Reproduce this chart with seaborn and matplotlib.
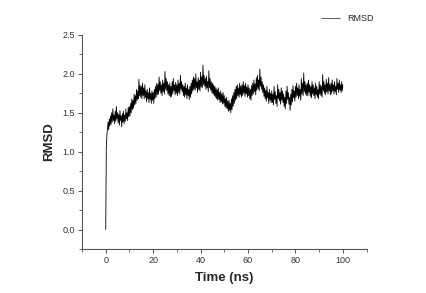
import numpy as np
import pandas as pd
import matplotlib
matplotlib.use('Agg')
import matplotlib.pyplot as plt
from matplotlib.ticker import MultipleLocator
from matplotlib.lines import Line2D
import seaborn as sns

# RMSD trace, one value every 0.25 ns
time_ns = np.arange(0, 100.01, 0.25)
rmsd = [
    0.00, 1.05, 1.22, 1.30, 1.38, 1.28, 1.42, 1.33, 1.46, 1.35, 1.50, 1.38, 1.55, 1.40, 1.47, 1.36, 1.52, 1.39, 1.58, 1.42,
    1.50, 1.37, 1.48, 1.34, 1.53, 1.40, 1.46, 1.32, 1.49, 1.38, 1.52, 1.36, 1.47, 1.39, 1.55, 1.42, 1.50, 1.40, 1.57, 1.45,
    1.58, 1.46, 1.62, 1.50, 1.68, 1.54, 1.66, 1.56, 1.74, 1.60, 1.72, 1.62, 1.80, 1.66, 1.78, 1.68, 1.93, 1.72, 1.85, 1.70,
    1.84, 1.68, 1.88, 1.72, 1.82, 1.68, 1.86, 1.70, 1.78, 1.64, 1.80, 1.68, 1.76, 1.63, 1.82, 1.67, 1.75, 1.62, 1.78, 1.66,
    1.76, 1.62, 1.80, 1.68, 1.84, 1.70, 1.88, 1.73, 1.86, 1.74, 1.96, 1.78, 1.90, 1.75, 1.86, 1.72, 1.92, 1.77, 1.88, 1.74,
    2.03, 1.80, 1.94, 1.78, 1.90, 1.74, 1.86, 1.72, 1.88, 1.70, 1.84, 1.71, 1.90, 1.74, 1.94, 1.78, 1.86, 1.73, 1.89, 1.75,
    1.86, 1.72, 1.92, 1.76, 1.88, 1.74, 1.98, 1.80, 1.90, 1.77, 1.86, 1.72, 1.84, 1.70, 1.88, 1.73, 1.82, 1.68, 1.86, 1.72,
    1.80, 1.67, 1.84, 1.70, 1.88, 1.74, 1.92, 1.78, 1.96, 1.80, 1.94, 1.79, 2.00, 1.82, 1.90, 1.76, 1.95, 1.80, 1.92, 1.78,
    2.02, 1.83, 1.96, 1.82, 2.11, 1.86, 1.98, 1.84, 1.94, 1.80, 1.97, 1.82, 1.90, 1.77, 2.04, 1.82, 1.94, 1.79, 1.90, 1.76,
    1.88, 1.74, 1.86, 1.72, 1.84, 1.70, 1.82, 1.68, 1.80, 1.66, 1.82, 1.67, 1.76, 1.63, 1.78, 1.64, 1.74, 1.61, 1.76, 1.62,
    1.72, 1.58, 1.68, 1.56, 1.70, 1.55, 1.65, 1.52, 1.66, 1.53, 1.62, 1.50, 1.68, 1.54, 1.72, 1.58, 1.76, 1.62, 1.80, 1.66,
    1.84, 1.68, 1.86, 1.72, 1.82, 1.70, 1.88, 1.73, 1.84, 1.70, 1.86, 1.72, 1.90, 1.75, 1.85, 1.71, 1.88, 1.74, 1.83, 1.70,
    1.86, 1.72, 1.82, 1.68, 1.80, 1.66, 1.85, 1.72, 1.88, 1.74, 1.92, 1.77, 1.87, 1.73, 1.95, 1.79, 1.98, 1.81, 1.92, 1.78,
    2.06, 1.84, 1.96, 1.80, 1.90, 1.76, 1.86, 1.71, 1.82, 1.68, 1.79, 1.65, 1.84, 1.69, 1.76, 1.62, 1.80, 1.66, 1.75, 1.63,
    1.78, 1.63, 1.74, 1.60, 1.84, 1.67, 1.77, 1.62, 1.72, 1.58, 1.86, 1.68, 1.80, 1.65, 1.76, 1.61, 1.82, 1.66, 1.78, 1.63,
    1.74, 1.58, 1.70, 1.55, 1.78, 1.62, 1.84, 1.67, 1.76, 1.61, 1.70, 1.53, 1.74, 1.60, 1.80, 1.64, 1.85, 1.69, 1.78, 1.65,
    1.84, 1.70, 1.88, 1.72, 1.82, 1.68, 1.86, 1.71, 1.80, 1.66, 1.94, 1.74, 1.88, 1.72, 2.01, 1.77, 1.90, 1.74, 1.86, 1.72,
    1.88, 1.72, 1.92, 1.76, 1.86, 1.71, 1.84, 1.69, 1.90, 1.74, 1.86, 1.72, 1.82, 1.68, 1.88, 1.73, 1.84, 1.70, 1.80, 1.68,
    1.90, 1.74, 1.86, 1.72, 1.84, 1.70, 1.99, 1.78, 1.90, 1.75, 1.86, 1.73, 1.93, 1.77, 1.88, 1.74, 1.95, 1.78, 1.86, 1.73,
    1.88, 1.75, 1.92, 1.78, 1.86, 1.74, 1.90, 1.77, 1.84, 1.73, 1.94, 1.80, 1.88, 1.76, 1.92, 1.79, 1.86, 1.76, 1.90, 1.78,
    1.86,
]
x_ticks = [0, 20, 40, 60, 80, 100]
y_ticks = [0.0, 0.5, 1.0, 1.5, 2.0, 2.5]

df = pd.DataFrame({'Time (ns)': time_ns, 'RMSD': rmsd})

sns.set_style('ticks')
plt.rcParams['font.family'] = ['Liberation Sans', 'DejaVu Sans']

fig = plt.figure(figsize=(4.26, 2.93), dpi=100)
ax = fig.add_axes([0.1925, 0.150, 0.668, 0.731])

sns.lineplot(data=df, x='Time (ns)', y='RMSD', color='black', linewidth=0.6, ax=ax)

ax.set_xlim(-10, 110)
ax.set_ylim(-0.25, 2.5)
ax.set_xticks(x_ticks)
ax.set_yticks(y_ticks)
ax.set_yticklabels([f'{v:.1f}' for v in y_ticks])
ax.xaxis.set_minor_locator(MultipleLocator(10))
ax.yaxis.set_minor_locator(MultipleLocator(0.25))

sns.despine(ax=ax)
for s in ['left', 'bottom']:
    ax.spines[s].set_color('#555555')
    ax.spines[s].set_linewidth(0.8)
ax.tick_params(which='major', direction='out', length=3, width=0.7,
               color='#555555', labelsize=6.5, labelcolor='#333333', pad=2)
ax.tick_params(which='minor', direction='out', length=2, width=0.6, color='#555555')

ax.set_xlabel('Time (ns)', fontsize=9.5, fontweight='bold', labelpad=5)
ax.set_ylabel('RMSD', fontsize=9.5, fontweight='bold', labelpad=5)

handle = Line2D([], [], color='#444444', linewidth=0.6)
fig.legend([handle], ['RMSD'], loc='center left', bbox_to_anchor=(0.742, 0.937),
           frameon=False, fontsize=6.5, handlelength=2.2, handletextpad=0.8,
           borderpad=0)

fig.savefig('out.png', dpi=100)
